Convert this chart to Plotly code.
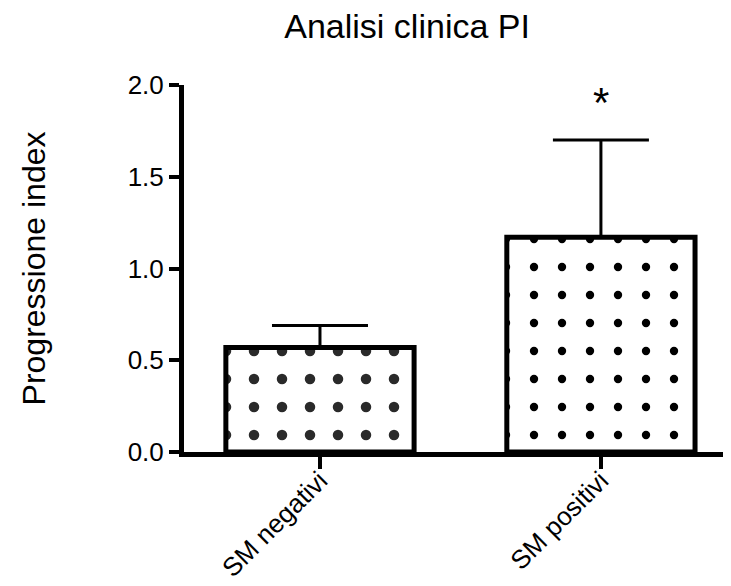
import plotly.graph_objects as go

categories = ["SM negativi", "SM positivi"]
means = [0.57, 1.17]
sem = [0.12, 0.53]
sem_minus = [0.0, 0.0]
y_ticks = [0.0, 0.5, 1.0, 1.5, 2.0]
y_tick_labels = ["0.0", "0.5", "1.0", "1.5", "2.0"]
significance = ["", "*"]

FONT = "Arial, Liberation Sans, sans-serif"

fig = go.Figure()
patterns = [
    dict(shape=".", size=28, solidity=0.11, fgcolor="#2a2a2a", fgopacity=1, bgcolor="white", fillmode="overlay"),
    dict(shape=".", size=28, solidity=0.07, fgcolor="black", fgopacity=1, bgcolor="white", fillmode="overlay"),
]
for i, cat in enumerate(categories):
    fig.add_trace(go.Bar(
        x=[i], y=[means[i]], width=0.67,
        marker=dict(color="white", line=dict(color="black", width=5), pattern=patterns[i]),
        error_y=dict(type="data", array=[sem[i]], arrayminus=[sem_minus[i]],
                     color="black", thickness=3, width=48, symmetric=False),
        showlegend=False,
    ))
    if significance[i]:
        fig.add_annotation(x=i, y=means[i] + sem[i], text=significance[i], showarrow=False,
                           yanchor="bottom", yshift=12,
                           font=dict(family=FONT, size=42, color="black"))

# page body has an 8px default margin; the figure is sized to fit the window
fig.update_layout(
    width=723, height=578,
    margin=dict(l=176, r=0, t=77, b=134, autoexpand=False),
    paper_bgcolor="white", plot_bgcolor="white",
    title=dict(text="Analisi clinica PI", x=0.552, xanchor="center", xref="container",
               y=0.99, yanchor="top", font=dict(family=FONT, size=34, color="black")),
)
fig.update_xaxes(
    range=[-0.484, 1.463], tickmode="array", tickvals=[0, 1], ticktext=categories,
    tickangle=-45, ticks="outside", ticklen=12, tickwidth=4, tickcolor="black",
    showline=True, linewidth=5, linecolor="black", showgrid=False, zeroline=False,
    tickfont=dict(family=FONT, size=26, color="black"), automargin=False,
    ticklabelstandoff=-14,
)
fig.update_yaxes(
    range=[0, 2.0], tickmode="array", tickvals=y_ticks, ticktext=y_tick_labels,
    ticks="outside", ticklen=10, tickwidth=4, tickcolor="black",
    showline=True, linewidth=5, linecolor="black", showgrid=False, zeroline=False,
    tickfont=dict(family=FONT, size=26, color="black"), automargin=False,
    title=dict(text="Progressione index", standoff=74, font=dict(family=FONT, size=32, color="black")),
)

fig.write_html("out.html")
